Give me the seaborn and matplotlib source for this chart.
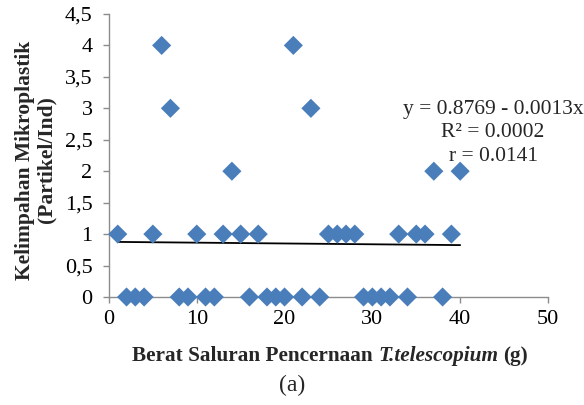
import matplotlib
matplotlib.use("Agg")
import matplotlib.pyplot as plt
import seaborn as sns
import numpy as np
import pandas as pd
from matplotlib.ticker import FuncFormatter
from matplotlib.offsetbox import TextArea, HPacker, AnchoredOffsetbox

berat = [1, 2, 3, 4, 5, 6, 7, 8, 9, 10, 11, 12, 13, 14, 15, 16, 17, 18, 19, 20,
         21, 22, 23, 24, 25, 26, 27, 28, 29, 30, 31, 32, 33, 34, 35, 36, 37, 38, 39, 40]
kelimpahan = [1, 0, 0, 0, 1, 4, 3, 0, 0, 1, 0, 0, 1, 2, 1, 0, 1, 0, 0, 0,
              4, 0, 3, 0, 1, 1, 1, 1, 0, 0, 0, 0, 1, 0, 1, 1, 2, 0, 1, 2]
intercept = 0.8769
slope = -0.0013
eq_lines = ["y = 0.8769 - 0.0013x", "R² = 0.0002", "r = 0.0141"]
x_ticks = [0, 10, 20, 30, 40, 50]
y_ticks = [0, 0.5, 1, 1.5, 2, 2.5, 3, 3.5, 4, 4.5]
xlabel_parts = ["Berat Saluran Pencernaan", "T.telescopium", "(g)"]
ylabel_text = "Kelimpahan Mikroplastik\n(Partikel/Ind)"
caption = "(a)"

sns.set_theme(style="white")
plt.rcParams['font.family'] = ['Liberation Serif', 'DejaVu Serif']

df = pd.DataFrame({"x": berat, "y": kelimpahan})
xl = np.array([min(berat), max(berat)])
line_df = pd.DataFrame({"x": xl, "y": intercept + slope * xl})

fig = plt.figure(figsize=(5.84, 4.05), dpi=100)
ax = fig.add_axes([0.1866, 0.2667, 0.7517, 0.6988])

sns.scatterplot(data=df, x="x", y="y", marker="D", s=95, color="#4a7ebb",
                edgecolor="none", linewidth=0, ax=ax, zorder=3)
sns.lineplot(data=line_df, x="x", y="y", color="black", linewidth=1.3, ax=ax, zorder=2)

ax.set_xlim(0, 50)
ax.set_ylim(0, 4.5)
ax.set_xticks(x_ticks)
ax.set_yticks(y_ticks)
ax.yaxis.set_major_formatter(FuncFormatter(lambda v, p: ("%g" % v).replace(".", ",")))
ax.tick_params(axis="both", direction="out", length=4.3, width=1, color="#8c8c8c",
               labelsize=16, labelcolor="black")
ax.tick_params(axis="y", pad=7.5)
ax.tick_params(axis="x", pad=5)
ax.tick_params(left=True, bottom=True)
for s in ["top", "right"]:
    ax.spines[s].set_visible(False)
for s in ["left", "bottom"]:
    ax.spines[s].set_color("#8c8c8c")
    ax.spines[s].set_linewidth(1)
for c in ax.collections:
    c.set_clip_on(False)

ax.set_xlabel("")
ax.set_ylabel("")
fig.text(0.062, 0.605, ylabel_text, rotation=90, ha="center", va="center",
         fontsize=15.5, fontweight="bold", linespacing=1.1)

xfs = 15.3
parts = [
    TextArea(xlabel_parts[0], textprops=dict(fontsize=xfs, fontweight="bold")),
    TextArea(xlabel_parts[1], textprops=dict(fontsize=xfs, fontweight="bold", fontstyle="italic")),
    TextArea(xlabel_parts[2], textprops=dict(fontsize=xfs, fontweight="bold")),
]
box = HPacker(children=parts, align="baseline", pad=0, sep=3.8)
anch = AnchoredOffsetbox(loc="center", child=box, pad=0, frameon=False,
                         bbox_to_anchor=(0.565, 1 - 356 / 405), bbox_transform=fig.transFigure,
                         borderpad=0)
fig.add_artist(anch)

ax.text(0.875, 0.58, "\n".join(eq_lines), transform=ax.transAxes, ha="center",
        va="center", fontsize=15.5, linespacing=1.3)

fig.text(0.5, 1 - 385 / 405, caption, ha="center", va="center", fontsize=17)

fig.savefig("out.png", dpi=100)
